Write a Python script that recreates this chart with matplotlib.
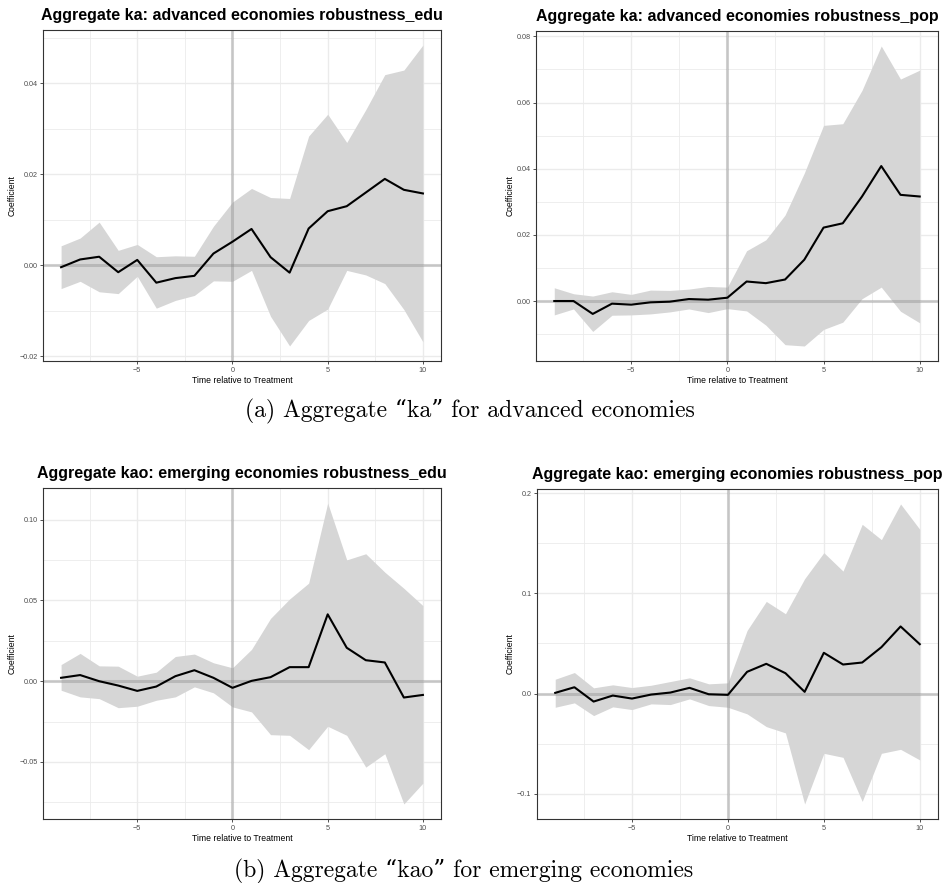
import matplotlib
matplotlib.use("Agg")
import matplotlib.pyplot as plt
import numpy as np
from matplotlib.ticker import FixedLocator, FixedFormatter

plt.rcParams['font.family'] = ['Liberation Sans', 'DejaVu Sans']

# event time
t = list(range(-9, 11))

# (a) ka, advanced economies, robustness_edu
edu_a_coef = [-0.0004, 0.0013, 0.0019, -0.0015, 0.0012, -0.0038, -0.0028, -0.0023, 0.0026, 0.0052,
              0.0080, 0.0018, -0.0016, 0.0081, 0.0119, 0.0130, 0.0160, 0.0190, 0.0166, 0.0158]
edu_a_hi = [0.0043, 0.0060, 0.0095, 0.0033, 0.0046, 0.0019, 0.0021, 0.0020, 0.0086, 0.0139,
            0.0169, 0.0149, 0.0147, 0.0284, 0.0332, 0.0270, 0.0342, 0.0419, 0.0429, 0.0484]
edu_a_lo = [-0.0051, -0.0035, -0.0058, -0.0062, -0.0024, -0.0094, -0.0077, -0.0066, -0.0034, -0.0035,
            -0.0011, -0.0112, -0.0177, -0.0121, -0.0096, -0.0011, -0.0021, -0.0040, -0.0097, -0.0168]

# (a) ka, advanced economies, robustness_pop
pop_a_coef = [0.0000, 0.0000, -0.0039, -0.0008, -0.0011, -0.0004, -0.0002, 0.0006, 0.0004, 0.0010,
              0.0059, 0.0054, 0.0065, 0.0125, 0.0222, 0.0235, 0.0316, 0.0408, 0.0321, 0.0316]
pop_a_hi = [0.0040, 0.0022, 0.0015, 0.0028, 0.0020, 0.0033, 0.0032, 0.0036, 0.0044, 0.0042,
            0.0152, 0.0185, 0.0260, 0.0387, 0.0531, 0.0536, 0.0637, 0.0771, 0.0671, 0.0698]
pop_a_lo = [-0.0042, -0.0024, -0.0092, -0.0043, -0.0042, -0.0039, -0.0033, -0.0024, -0.0035, -0.0023,
            -0.0030, -0.0073, -0.0132, -0.0136, -0.0086, -0.0064, 0.0007, 0.0042, -0.0031, -0.0066]

# (b) kao, emerging economies, robustness_edu
edu_b_coef = [0.0021, 0.0038, 0.0000, -0.0027, -0.0060, -0.0033, 0.0031, 0.0068, 0.0021, -0.0041,
              0.0002, 0.0025, 0.0087, 0.0087, 0.0414, 0.0207, 0.0130, 0.0116, -0.0101, -0.0085]
edu_b_hi = [0.0103, 0.0172, 0.0095, 0.0093, 0.0031, 0.0056, 0.0153, 0.0168, 0.0114, 0.0083,
            0.0197, 0.0389, 0.0509, 0.0607, 0.1103, 0.0751, 0.0789, 0.0675, 0.0575, 0.0468]
edu_b_lo = [-0.0056, -0.0097, -0.0108, -0.0164, -0.0155, -0.0118, -0.0097, -0.0035, -0.0072, -0.0159,
            -0.0190, -0.0331, -0.0335, -0.0424, -0.0279, -0.0335, -0.0532, -0.0449, -0.0760, -0.0631]

# (b) kao, emerging economies, robustness_pop
pop_b_coef = [0.0007, 0.0063, -0.0080, -0.0020, -0.0050, -0.0010, 0.0010, 0.0057, -0.0007, -0.0013,
              0.0217, 0.0297, 0.0203, 0.0017, 0.0407, 0.0290, 0.0310, 0.0463, 0.0670, 0.0493]
pop_b_hi = [0.0143, 0.0210, 0.0057, 0.0087, 0.0060, 0.0083, 0.0120, 0.0157, 0.0097, 0.0107,
            0.0630, 0.0920, 0.0797, 0.1147, 0.1407, 0.1223, 0.1690, 0.1537, 0.1893, 0.1640]
pop_b_lo = [-0.0137, -0.0093, -0.0220, -0.0133, -0.0160, -0.0103, -0.0110, -0.0053, -0.0120, -0.0137,
            -0.0203, -0.0330, -0.0393, -0.1103, -0.0597, -0.0637, -0.1077, -0.0597, -0.0557, -0.0663]

titles = ["Aggregate ka: advanced economies robustness_edu",
          "Aggregate ka: advanced economies robustness_pop",
          "Aggregate kao: emerging economies robustness_edu",
          "Aggregate kao: emerging economies robustness_pop"]
x_ticks = [-5, 0, 5, 10]
y_ticks = [[-0.02, 0.00, 0.02, 0.04],
           [0.00, 0.02, 0.04, 0.06, 0.08],
           [-0.05, 0.00, 0.05, 0.10],
           [-0.1, 0.0, 0.1, 0.2]]
y_digits = [2, 2, 2, 1]
captions = ["(a) Aggregate \u201cka\u201d for advanced economies",
            "(b) Aggregate \u201ckao\u201d for emerging economies"]

panels = [(edu_a_coef, edu_a_lo, edu_a_hi), (pop_a_coef, pop_a_lo, pop_a_hi),
          (edu_b_coef, edu_b_lo, edu_b_hi), (pop_b_coef, pop_b_lo, pop_b_hi)]

W, H = 944, 883
fig = plt.figure(figsize=(W / 100, H / 100), dpi=100)

# panel boxes in pixels: left, top, right, bottom
boxes = [(43, 30, 441, 361), (536, 31, 938, 361),
         (43, 488, 441, 819), (537, 489, 938, 819)]


def expand(lo, hi, frac=0.05):
    d = (hi - lo) * frac
    return lo - d, hi + d


for i, (coef, lo, hi) in enumerate(panels):
    l, tp, r, b = boxes[i]
    ax = fig.add_axes([l / W, 1 - b / H, (r - l) / W, (b - tp) / H])
    x = np.array(t)
    ax.set_xlim(*expand(x.min(), x.max()))
    ax.set_ylim(*expand(min(lo), max(hi)))

    yt = y_ticks[i]
    step = yt[1] - yt[0]
    ymin, ymax = ax.get_ylim()
    minors_y = [v + step / 2 for v in [yt[0] - step] + yt]
    minors_y = [v for v in minors_y if ymin < v < ymax]
    minors_x = [-7.5, -2.5, 2.5, 7.5]

    # theme_bw style grid
    for v in minors_x:
        ax.axvline(v, color='#ebebeb', lw=0.6, zorder=0)
    for v in minors_y:
        ax.axhline(v, color='#ebebeb', lw=0.6, zorder=0)
    for v in x_ticks:
        ax.axvline(v, color='#ebebeb', lw=1.0, zorder=0)
    for v in yt:
        ax.axhline(v, color='#ebebeb', lw=1.0, zorder=0)

    ax.fill_between(x, lo, hi, color='#d6d6d6', lw=0, zorder=1)
    ax.axhline(0, color='#808080', alpha=0.35, lw=2.2, zorder=2)
    ax.axvline(0, color='#808080', alpha=0.35, lw=2.2, zorder=2)
    ax.plot(x, coef, color='black', lw=1.5, zorder=3)

    ax.xaxis.set_major_locator(FixedLocator(x_ticks))
    ax.yaxis.set_major_locator(FixedLocator(yt))
    fmt = "{:.%df}" % y_digits[i]
    ax.yaxis.set_major_formatter(FixedFormatter([fmt.format(v).replace('-', '\u2212') for v in yt]))
    ax.xaxis.set_major_formatter(FixedFormatter([str(v).replace('-', '\u2212') for v in x_ticks]))
    ax.tick_params(labelsize=5.2, labelcolor='#4d4d4d', color='#333333', length=2.5, width=0.6, pad=1.5)
    for s in ax.spines.values():
        s.set_color('#333333')
        s.set_linewidth(0.8)

    ax.set_xlabel("Time relative to Treatment", fontsize=6.2, color='black', labelpad=1.5)
    ax.set_ylabel("Coefficient", fontsize=6.2, color='black', labelpad=1.5)
    ax.set_title(titles[i], fontsize=11.5, fontweight='bold', pad=7)

fig.text(470 / W, 1 - 411 / H, captions[0], ha='center', va='center',
         fontsize=17, family=['cmr10', 'DejaVu Serif'])
fig.text(464 / W, 1 - 871 / H, captions[1], ha='center', va='center',
         fontsize=17, family=['cmr10', 'DejaVu Serif'])

fig.savefig("out.png", dpi=100)
